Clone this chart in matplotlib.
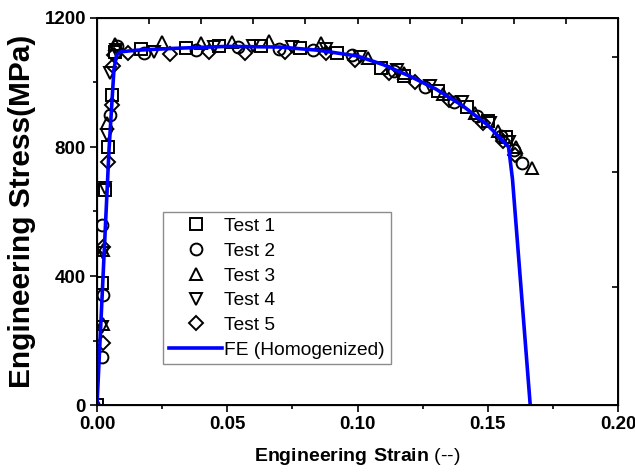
import numpy as np
import matplotlib
matplotlib.use("Agg")
import matplotlib.pyplot as plt

plt.rcParams['font.family'] = ['Liberation Sans', 'DejaVu Sans']
plt.rcParams['mathtext.fontset'] = 'custom'
plt.rcParams['mathtext.rm'] = 'Liberation Sans'
plt.rcParams['mathtext.bf'] = 'Liberation Sans:bold'

# test data (strain, stress in MPa)
t1_x = [0.0, 0.0019, 0.003, 0.0042, 0.0058, 0.007, 0.017, 0.034, 0.047, 0.063, 0.078, 0.092,
        0.109, 0.118, 0.131, 0.142, 0.150, 0.157]
t1_y = [0, 378, 667, 800, 960, 1095, 1105, 1108, 1112, 1112, 1108, 1092,
        1045, 1020, 975, 925, 880, 830]

t2_x = [0.0019, 0.0023, 0.0019, 0.005, 0.0075, 0.018, 0.038, 0.054, 0.070, 0.083, 0.098,
        0.114, 0.126, 0.137, 0.146, 0.155, 0.160, 0.163]
t2_y = [149, 341, 558, 900, 1112, 1092, 1102, 1110, 1105, 1100, 1085,
        1035, 985, 940, 895, 835, 790, 750]

t3_x = [0.0, 0.0023, 0.0023, 0.0038, 0.0068, 0.025, 0.040, 0.052, 0.066, 0.086, 0.104,
        0.118, 0.133, 0.145, 0.154, 0.161, 0.1668]
t3_y = [0, 250, 480, 874, 1120, 1125, 1122, 1125, 1128, 1122, 1075,
        1030, 965, 905, 850, 800, 735]

t4_x = [0.0019, 0.0023, 0.003, 0.0038, 0.0048, 0.0072, 0.022, 0.045, 0.060, 0.075, 0.088,
        0.101, 0.115, 0.128, 0.140, 0.151, 0.158]
t4_y = [242, 470, 673, 837, 1030, 1100, 1095, 1110, 1112, 1110, 1105,
        1080, 1040, 990, 940, 875, 815]

t5_x = [0.0023, 0.0023, 0.0042, 0.0058, 0.0062, 0.0065, 0.012, 0.028, 0.043, 0.057, 0.072,
        0.088, 0.099, 0.112, 0.122, 0.135, 0.148, 0.156, 0.1605]
t5_y = [192, 490, 754, 930, 1050, 1085, 1090, 1088, 1095, 1092, 1095,
        1090, 1070, 1030, 1000, 945, 875, 820, 775]

# FE (homogenized) curve
fe_x = [0.0, 0.0046, 0.0065, 0.0075, 0.009, 0.015, 0.03, 0.05, 0.07, 0.085, 0.10,
        0.11, 0.12, 0.13, 0.14, 0.15, 0.158, 0.1595, 0.1663]
fe_y = [0, 790, 1040, 1085, 1095, 1100, 1106, 1112, 1110, 1100, 1082,
        1055, 1020, 980, 930, 868, 800, 700, 0]

fig = plt.figure(figsize=(6.35, 4.73), dpi=100)
ax = fig.add_axes([97 / 635, 1 - 405 / 473, 521 / 635, 387 / 473])

mk = dict(linestyle='none', mfc='none', mec='black', mew=1.4, ms=8.5)
ax.plot(t1_x, t1_y, marker='s', label='Test 1', **mk)
ax.plot(t2_x, t2_y, marker='o', label='Test 2', **mk)
ax.plot(t3_x, t3_y, marker='^', label='Test 3', **mk)
ax.plot(t4_x, t4_y, marker='v', label='Test 4', **mk)
ax.plot(t5_x, t5_y, marker='D', label='Test 5', **dict(mk, ms=7.5))
ax.plot(fe_x, fe_y, color='#0000ff', lw=2.6, label='FE (Homogenized)')

ax.set_xlim(0, 0.2)
ax.set_ylim(0, 1200)
ax.set_xticks([0, 0.05, 0.10, 0.15, 0.20])
ax.set_xticklabels(['0.00', '0.05', '0.10', '0.15', '0.20'])
ax.set_xticks([0.025, 0.075, 0.125, 0.175], minor=True)
ax.set_yticks([0, 400, 800, 1200])
ax.set_yticks([200, 600, 1000], minor=True)
ax.tick_params(which='major', direction='out', length=5, width=1.2, labelsize=13.5, pad=3)
ax.tick_params(which='minor', direction='out', length=3, width=1.2)
for lab in ax.get_xticklabels() + ax.get_yticklabels():
    lab.set_fontweight('bold')
for s in ax.spines.values():
    s.set_linewidth(1.4)

# mirrored ticks on top and right
axt = ax.twiny()
axt.set_xlim(0, 0.2)
axt.set_xticks(np.arange(0.02, 0.19, 0.02))
axt.tick_params(direction='in', length=4, width=1.2, labeltop=False)
axr = ax.twinx()
axr.set_ylim(0, 1200)
axr.set_yticks([366, 722, 1079])
axr.tick_params(direction='in', length=4, width=1.2, labelright=False)

ax.set_xlabel(r'$\bf{Engineering\ Strain}$ (--)', fontsize=14, labelpad=9)
ax.set_ylabel('Engineering Stress(MPa)', fontsize=21.5, fontweight='bold', labelpad=6)

leg = ax.legend(loc='upper left', bbox_to_anchor=(66 / 521, 1 - 194 / 387), fontsize=13.8,
                frameon=True, fancybox=False, borderpad=0.3, handlelength=2.8,
                handletextpad=0.1, labelspacing=0.38, borderaxespad=0)
leg.get_frame().set_edgecolor('#707070')
leg.get_frame().set_linewidth(1.0)

fig.savefig('out.png', dpi=100)
